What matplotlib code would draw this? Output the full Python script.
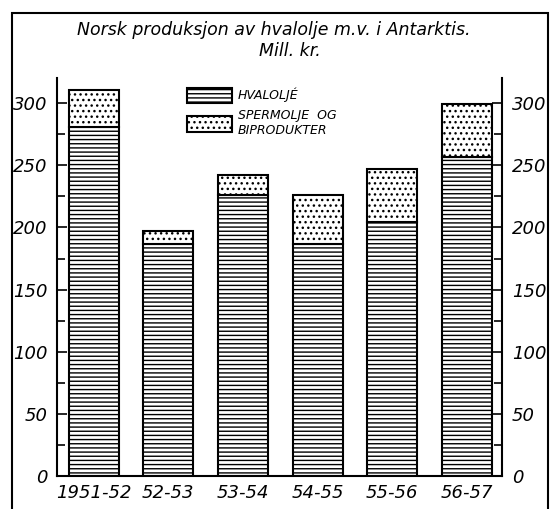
import numpy as np
import matplotlib.pyplot as plt
from matplotlib.patches import Rectangle

# values, mill. kr
seasons = ['1951-52', '52-53', '53-54', '54-55', '55-56', '56-57']
hvalolje = [281, 187, 226, 187, 204, 257]
spermolje = [30, 10, 16, 39, 43, 42]

plt.rcParams['hatch.linewidth'] = 1.0
plt.rcParams['font.style'] = 'italic'

fig = plt.figure(figsize=(5.53, 5.09), dpi=100)
ax = fig.add_axes([0.103, 0.065, 0.805, 0.781])

x = np.arange(len(seasons))
b1 = ax.bar(x, hvalolje, width=0.67, color='white', edgecolor='black',
            hatch='----', linewidth=1.5)
b2 = ax.bar(x, spermolje, width=0.67, bottom=hvalolje, color='white',
            edgecolor='black', hatch='...', linewidth=1.5)

ax.set_xlim(-0.49, 5.47)
ax.set_ylim(0, 320)
ax.set_yticks(np.arange(0, 301, 50))
ax.set_yticks(np.arange(25, 300, 50), minor=True)
ax.tick_params(axis='y', which='both', direction='in', left=True, right=True,
               labelleft=True, labelright=True, labelsize=13, width=1.2)
ax.tick_params(axis='y', which='major', length=7, pad=7)
ax.tick_params(axis='y', which='minor', length=6)
ax.set_xticks(x)
ax.set_xticklabels(seasons, fontsize=13)
ax.tick_params(axis='x', length=0, pad=6)
for s in ['left', 'right', 'bottom']:
    ax.spines[s].set_linewidth(1.5)
ax.spines['top'].set_visible(False)

ax.legend([b1, b2], ['HVALOLJÉ', 'SPERMOLJE  OG\nBIPRODUKTER'],
          loc='upper left', bbox_to_anchor=(0.266, 1.005), frameon=False,
          fontsize=9, handlelength=3.6, handleheight=1.5, labelspacing=0.5,
          handletextpad=0.5)

fig.text(0.495, 0.942, 'Norsk produksjon av hvalolje m.v. i Antarktis.',
         ha='center', va='center', fontsize=12.5)
fig.text(0.525, 0.9, 'Mill. kr.', ha='center', va='center', fontsize=12.5)

fig.patches.append(Rectangle((12 / 553, -0.01), 536 / 553, 1 - 13 / 509 + 0.01,
                             transform=fig.transFigure, fill=False,
                             edgecolor='black', linewidth=1.5))

fig.savefig('out.png', dpi=100)
